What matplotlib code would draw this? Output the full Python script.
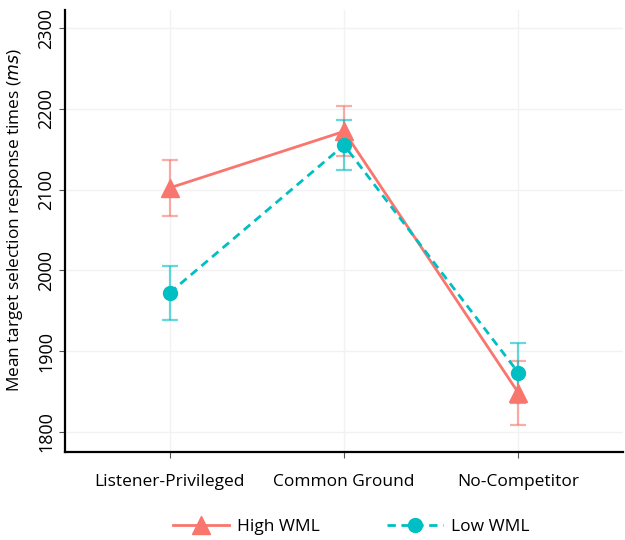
import matplotlib.pyplot as plt
import numpy as np

plt.rcParams['font.family'] = ['Open Sans', 'DejaVu Sans']

conditions = ['Listener-Privileged', 'Common Ground', 'No-Competitor']
high_wml = [2102, 2172, 1848]
high_err = [35, 31, 40]
low_wml = [1972, 2155, 1873]
low_err = [33, 31, 37]

red = '#F8766D'
teal = '#00BFC4'

x = np.arange(len(conditions))

fig = plt.figure(figsize=(6.25, 5.4), dpi=100)
ax = fig.add_axes([0.104, 0.163, 0.893, 0.818])

ax.grid(True, color='#f2f2f2', lw=1.0)
ax.set_axisbelow(True)

ax.errorbar(x, high_wml, yerr=high_err, fmt='none', ecolor=red, alpha=0.6,
            capsize=6, elinewidth=1.6, capthick=1.6, zorder=2)
ax.errorbar(x, low_wml, yerr=low_err, fmt='none', ecolor=teal, alpha=0.6,
            capsize=6, elinewidth=1.6, capthick=1.6, zorder=2)
h1, = ax.plot(x, high_wml, color=red, lw=2, marker='^', ms=13, zorder=3, label='High WML')
h2, = ax.plot(x, low_wml, color=teal, lw=2, ls=(0, (3, 2)), marker='o', ms=10,
              zorder=4, label='Low WML')

ax.set_xlim(-0.6, 2.6)
ax.set_ylim(1775, 2322)
ax.set_yticks([1800, 1900, 2000, 2100, 2200, 2300])
ax.set_xticks(x)
ax.set_xticklabels(conditions, fontsize=12.5)
ax.tick_params(axis='y', labelsize=13, labelrotation=90, length=4, color='#555555', pad=3)
ax.tick_params(axis='x', length=4, color='#555555', pad=12)
for lab in ax.get_yticklabels():
    lab.set_va('center')

ax.set_ylabel('Mean target selection response times ($\\it{ms}$)', fontsize=12.4)
ax.yaxis.set_label_coords(-0.072, 0.525)

for s in ['top', 'right']:
    ax.spines[s].set_visible(False)
for s in ['left', 'bottom']:
    ax.spines[s].set_linewidth(1.6)
    ax.spines[s].set_color('black')

fig.legend(handles=[h1, h2], loc='lower center', ncol=2, frameon=False,
           fontsize=12.5, handlelength=3.2, handletextpad=0.45, columnspacing=3.9,
           bbox_to_anchor=(0.562, -0.02))

fig.savefig('out.png', dpi=100, facecolor='white')
